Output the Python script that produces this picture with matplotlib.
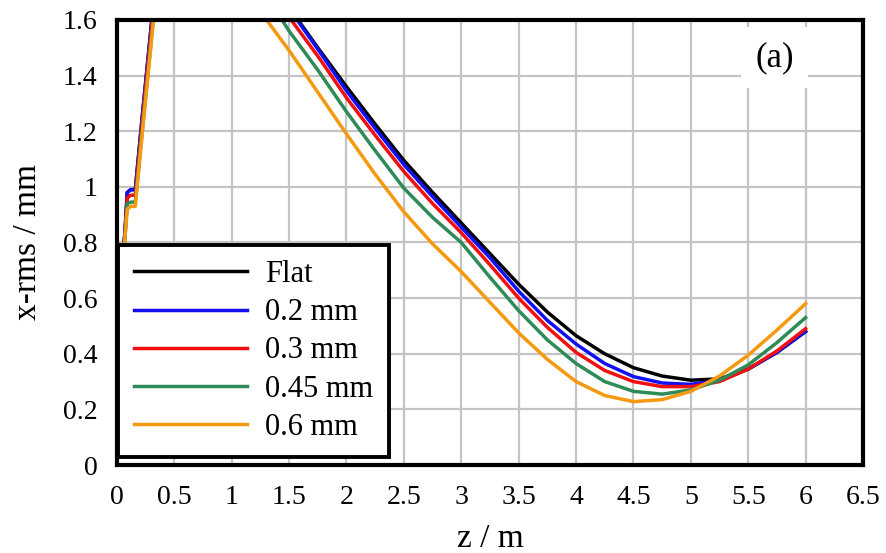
import matplotlib
matplotlib.use("Agg")
import matplotlib.pyplot as plt

plt.rcParams['font.family'] = ['Liberation Serif', 'DejaVu Serif']

z = [0.0, 0.07, 0.09, 0.12, 0.16, 0.22, 0.28, 0.34, 0.6, 0.9, 1.25, 1.5,
     1.75, 2.0, 2.25, 2.5, 2.75, 3.0, 3.25, 3.5, 3.75, 4.0, 4.25, 4.5,
     4.75, 5.0, 5.25, 5.5, 5.75, 6.0]

flat = [0.5, 0.84, 0.98, 0.99, 0.99, 1.25, 1.5, 1.75, 2.4, 2.3, 1.78, 1.645,
        1.50, 1.36, 1.225, 1.095, 0.98, 0.87, 0.76, 0.65, 0.55, 0.465, 0.40, 0.35,
        0.32, 0.305, 0.31, 0.345, 0.405, 0.48]
mm02 = [0.5, 0.84, 0.98, 0.99, 0.99, 1.25, 1.5, 1.75, 2.4, 2.3, 1.77, 1.64,
        1.495, 1.345, 1.21, 1.08, 0.965, 0.855, 0.745, 0.625, 0.52, 0.435, 0.365, 0.318,
        0.295, 0.29, 0.305, 0.345, 0.405, 0.48]
mm03 = [0.5, 0.83, 0.96, 0.97, 0.97, 1.23, 1.48, 1.73, 2.4, 2.3, 1.76, 1.61,
        1.47, 1.32, 1.185, 1.055, 0.94, 0.835, 0.72, 0.60, 0.495, 0.405, 0.34, 0.30,
        0.282, 0.282, 0.30, 0.345, 0.41, 0.49]
mm045 = [0.5, 0.82, 0.94, 0.945, 0.945, 1.2, 1.45, 1.7, 2.4, 2.3, 1.72, 1.56,
         1.42, 1.27, 1.13, 0.995, 0.89, 0.80, 0.675, 0.555, 0.45, 0.365, 0.30, 0.265,
         0.255, 0.27, 0.305, 0.36, 0.44, 0.53]
mm06 = [0.5, 0.82, 0.92, 0.93, 0.93, 1.19, 1.44, 1.69, 2.4, 2.3, 1.63, 1.49,
        1.34, 1.19, 1.045, 0.91, 0.795, 0.695, 0.585, 0.475, 0.38, 0.30, 0.25, 0.228,
        0.235, 0.265, 0.32, 0.395, 0.485, 0.58]

labels = ["Flat", "0.2 mm", "0.3 mm", "0.45 mm", "0.6 mm"]
colors = ["black", "#1010f0", "#f01010", "#2e8b57", "#f59a10"]
series = [flat, mm02, mm03, mm045, mm06]

fig = plt.figure(figsize=(8.86, 5.53), dpi=100)
ax = fig.add_axes([0.132, 0.159, 0.842, 0.805])

for ys, lab, col in zip(series, labels, colors):
    ax.plot(z, ys, color=col, lw=2.5, label=lab, solid_joinstyle="round")

ax.set_xlim(0, 6.5)
ax.set_ylim(0, 1.6)
ax.set_xticks([i * 0.5 for i in range(14)])
ax.set_xticklabels(["0", "0.5", "1", "1.5", "2", "2.5", "3", "3.5", "4",
                    "4.5", "5", "5.5", "6", "6.5"])
ax.set_yticks([i * 0.2 for i in range(9)])
ax.set_yticklabels(["0", "0.2", "0.4", "0.6", "0.8", "1", "1.2", "1.4", "1.6"])
ax.tick_params(length=0, labelsize=20, pad=14)
ax.grid(True, color="#c4c4c4", lw=1.6)
ax.set_axisbelow(True)
for s in ax.spines.values():
    s.set_linewidth(3)

ax.set_xlabel("z / m", fontsize=24, labelpad=10)
ax.set_ylabel("x-rms / mm", fontsize=24, labelpad=14)

ax.text(5.73, 1.465, "(a)", fontsize=25, ha="center", va="center",
        bbox=dict(facecolor="white", edgecolor="none", pad=10), zorder=4)

leg = ax.legend(loc="lower left", bbox_to_anchor=(0.002, 0.018), borderaxespad=0,
                fontsize=22, handlelength=3.7, handletextpad=0.6, fancybox=False,
                framealpha=1, edgecolor="black", labelspacing=0.3, borderpad=0.5)
leg.get_frame().set_linewidth(2.8)

fig.savefig("out.png", dpi=100)
